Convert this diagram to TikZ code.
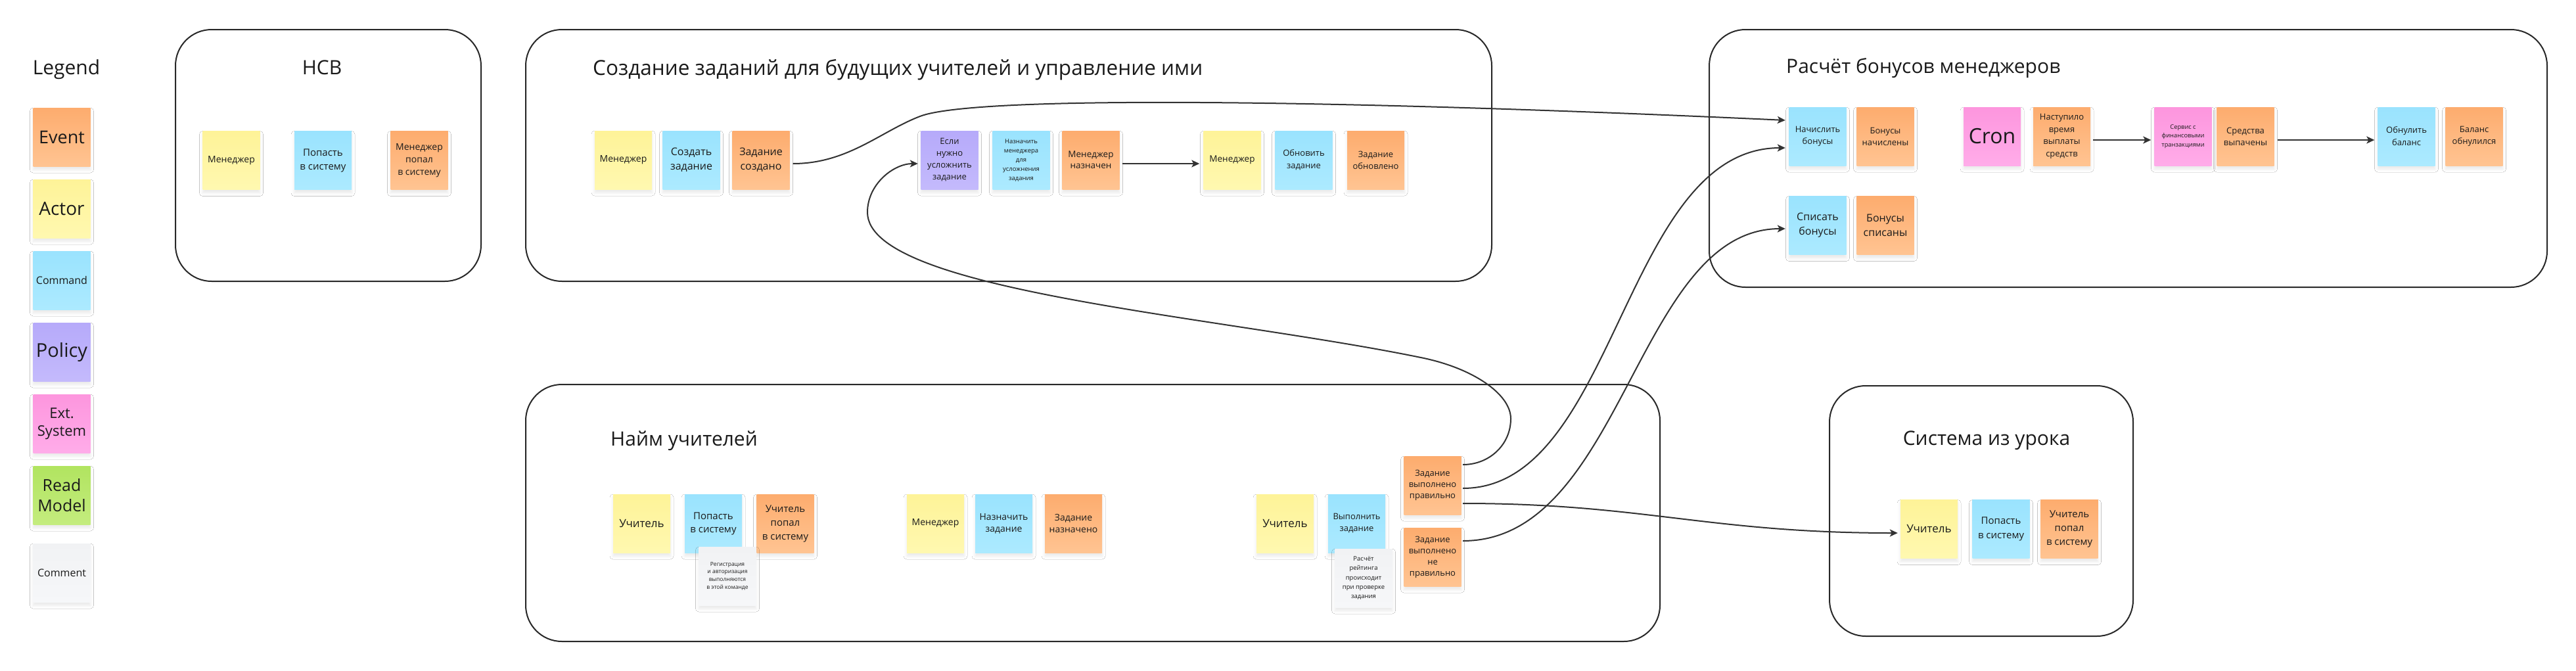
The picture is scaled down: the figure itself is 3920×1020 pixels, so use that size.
\documentclass[tikz,border=0pt]{standalone}
\usepackage{fontspec}
\setmainfont{Open Sans}
\usetikzlibrary{arrows.meta,shadows.blur}
\definecolor{evT}{RGB}{253,172,110}\definecolor{evB}{RGB}{255,196,146}
\definecolor{acT}{RGB}{254,243,152}\definecolor{acB}{RGB}{255,248,176}
\definecolor{cmT}{RGB}{154,227,254}\definecolor{cmB}{RGB}{172,234,255}
\definecolor{poT}{RGB}{182,170,250}\definecolor{poB}{RGB}{196,186,252}
\definecolor{exT}{RGB}{253,150,222}\definecolor{exB}{RGB}{255,172,233}
\definecolor{rmT}{RGB}{177,228,96}\definecolor{rmB}{RGB}{196,236,126}
\definecolor{coT}{RGB}{241,242,244}\definecolor{coB}{RGB}{246,247,249}
\definecolor{frameC}{RGB}{40,40,40}
\definecolor{connC}{RGB}{50,50,50}
\definecolor{txt}{RGB}{26,26,26}
\tikzset{
  sticky/.style={minimum width=87pt, minimum height=89pt, inner sep=1pt, align=center, text=txt,
    blur shadow={shadow xshift=0pt, shadow yshift=-5pt, shadow blur radius=5pt, shadow opacity=9}},
  event/.style={sticky, top color=evT, bottom color=evB},
  actor/.style={sticky, top color=acT, bottom color=acB},
  command/.style={sticky, top color=cmT, bottom color=cmB},
  policy/.style={sticky, top color=poT, bottom color=poB},
  extsys/.style={sticky, top color=exT, bottom color=exB},
  readm/.style={sticky, top color=rmT, bottom color=rmB},
  comment/.style={sticky, top color=coT, bottom color=coB},
  fs/.style 2 args={font=\fontsize{#1}{#2}\selectfont},
  frame/.style={draw=frameC, line width=2pt, rounded corners=55pt},
  ttl/.style={text=txt, inner sep=0pt, font=\fontsize{30}{36}\selectfont},
  conn/.style={draw=connC, line width=2pt, -{Stealth[length=12pt,width=11pt,inset=3pt]}}
}
\begin{document}
\begin{tikzpicture}[x=1pt,y=-1pt]
\useasboundingbox[fill=white] (0,0) rectangle (3920,1020);

% ---------- frames ----------
\draw[frame] (267,45) rectangle (732,428);
\draw[frame] (800,45) rectangle (2270,428);
\draw[frame] (2601,45) rectangle (3876,437);
\draw[frame] (800,585) rectangle (2526,976);
\draw[frame] (2784,587) rectangle (3246,968);

% ---------- titles ----------
\node[ttl, anchor=base] (tLegend) at (101,113) {Legend};
\node[ttl, anchor=base] (tHcb) at (490,113) {HCB};
\node[ttl, anchor=base west, font=\fontsize{31.5}{36}\selectfont] (tTasks) at (902,114) {Создание заданий для будущих учителей и управление ими};
\node[ttl, anchor=base west] (tBonus) at (2718,111) {Расчёт бонусов менеджеров};
\node[ttl, anchor=base west] (tHire) at (929,678) {Найм учителей};
\node[ttl, anchor=base] (tLesson) at (3023,677) {Система из урока};

% ---------- legend ----------
\node[event, fs={27}{32}] (lgEvent) at (94,208.5) {Event};
\node[actor, fs={28}{33}] (lgActor) at (94,317.5) {Actor};
\node[command, fs={16}{20}] (lgCommand) at (94,426.5) {Command};
\node[policy, fs={29}{34}] (lgPolicy) at (94,535.5) {Policy};
\node[extsys, fs={22}{27}] (lgExt) at (94,644.5) {Ext.\\System};
\node[readm, fs={25}{31}] (lgRead) at (94,753.5) {Read\\Model};
\node[comment, fs={16}{20}] (lgComment) at (94,871.5) {Comment};

% ---------- HCB ----------
\node[actor, fs={14}{19}] (hMan) at (352,244) {Менеджер};
\node[command, fs={15}{21}] (hLogin) at (491.5,244) {Попасть\\в систему};
\node[event, fs={14}{19}] (hIn) at (638,244) {Менеджер\\попал\\в систему};

% ---------- tasks ----------
\node[actor, fs={14}{19}] (tMan) at (948.5,243.5) {Менеджер};
\node[command, fs={16}{22}] (tCreate) at (1052,243.5) {Создать\\задание};
\node[event, fs={16}{22}] (tCreated) at (1158,243.5) {Задание\\создано};
\node[policy, fs={13}{18}] (tPolicy) at (1445,243.5) {Если\\нужно\\усложнить\\задание};
\node[command, fs={9.5}{14}] (tAssignM) at (1554,243.5) {Назначить\\менеджера\\для\\усложнения\\задания};
\node[event, fs={13.5}{17}] (tAssigned) at (1660,243.5) {Менеджер\\назначен};
\node[actor, fs={13.5}{18}] (tMan2) at (1875,243.5) {Менеджер};
\node[command, fs={13}{19}] (tUpdate) at (1984,243.5) {Обновить\\задание};
\node[event, fs={13}{18}] (tUpdated) at (2093.5,243.5) {Задание\\обновлено};

% ---------- bonuses ----------
\node[command, fs={13}{18}] (bAccrue) at (2766,207.5) {Начислить\\бонусы};
\node[event, fs={13}{18}] (bAccrued) at (2869,207.5) {Бонусы\\начислены};
\node[extsys, fs={32}{36}] (bCron) at (3031.5,207.5) {Cron};
\node[event, fs={13}{18.5}] (bTime) at (3137.5,207.5) {Наступило\\время\\выплаты\\средств};
\node[extsys, fs={9.3}{13.7}] (bFin) at (3322,207.5) {Сервис с\\финансовыми\\транзакциями};
\node[event, fs={13}{18}] (bPaid) at (3417,207.5) {Средства\\выпачены};
\node[command, fs={13}{19}] (bReset) at (3662,207.5) {Обнулить\\баланс};
\node[event, fs={13}{18}] (bResetDone) at (3765,207.5) {Баланс\\обнулился};
\node[command, fs={16}{22}] (bWrite) at (2766,343) {Списать\\бонусы};
\node[event, fs={16}{22}] (bWritten) at (2869,343) {Бонусы\\списаны};

% ---------- hiring ----------
\node[actor, fs={17}{21}] (rTeacher) at (976.5,796.5) {Учитель};
\node[command, fs={15}{20}] (rLogin) at (1085.5,796.5) {Попасть\\в систему};
\node[event, fs={15}{21}] (rIn) at (1195,796.5) {Учитель\\попал\\в систему};
\node[comment, fs={8.5}{11.7}] (rNote) at (1107,876.5) {Регистрация\\и авторизация\\выполняются\\в этой команде};
\node[actor, fs={14}{18}] (rMan) at (1423.5,796.5) {Менеджер};
\node[command, fs={14}{18}] (rAssign) at (1527.5,796.5) {Назначить\\задание};
\node[event, fs={14}{18}] (rAssigned) at (1633.5,796.5) {Задание\\назначено};
\node[actor, fs={17}{21}] (rTeacher2) at (1955.5,796.5) {Учитель};
\node[command, fs={13}{18}] (rDo) at (2064.5,796.5) {Выполнить\\задание};
\node[comment, fs={9.5}{14.3}] (rNote2) at (2075,879.5) {Расчёт\\рейтинга\\происходит\\при проверке\\задания};
\node[event, fs={13}{17}] (rOk) at (2180,738.5) {Задание\\выполнено\\правильно};
\node[event, fs={13}{17}] (rBad) at (2180,847.5) {Задание\\выполнено\\не\\правильно};

% ---------- lesson system ----------
\node[actor, fs={17}{21}] (sTeacher) at (2935.5,805) {Учитель};
\node[command, fs={15}{21.5}] (sLogin) at (3045,805) {Попасть\\в систему};
\node[event, fs={15}{21}] (sIn) at (3149,805) {Учитель\\попал\\в систему};

% ---------- connectors ----------
\draw[conn] ([shift={(5,5.5)}]tCreated.east) .. controls (1290,249) and (1340,200) .. (1400,177)
  .. controls (1480,146) and (2000,150) .. ([shift={(-5.5,-24.5)}]bAccrue.west);
\draw[conn] ([shift={(4,5.5)}]tAssigned.east) -- ([shift={(-6,5.5)}]tMan2.west);
\draw[conn] ([shift={(4,5.5)}]bTime.east) -- ([shift={(-5,5.5)}]bFin.west);
\draw[conn] ([shift={(5,5.5)}]bPaid.east) -- ([shift={(-5,5.5)}]bReset.west);
\draw[conn] ([shift={(2.5,-31.5)}]rOk.east) .. controls (2266,707) and (2299,677) .. (2299,637)
  .. controls (2299,600) and (2242,560) .. (2162,544)
  .. controls (1850,480) and (1320,443) .. (1320,323)
  .. controls (1320,280) and (1360,249) .. ([shift={(-4.5,5.5)}]tPolicy.west);
\draw[conn] ([shift={(2.5,4.5)}]rOk.east) .. controls (2460,743) and (2470,225) .. ([shift={(-5.5,17.5)}]bAccrue.west);
\draw[conn] ([shift={(2.5,-24.5)}]rBad.east) .. controls (2470,823) and (2490,348) .. ([shift={(-5.5,5)}]bWrite.west);
\draw[conn] ([shift={(2.5,27.5)}]rOk.east) .. controls (2500,766) and (2600,811) .. ([shift={(-4,6)}]sTeacher.west);
\end{tikzpicture}
\end{document}
